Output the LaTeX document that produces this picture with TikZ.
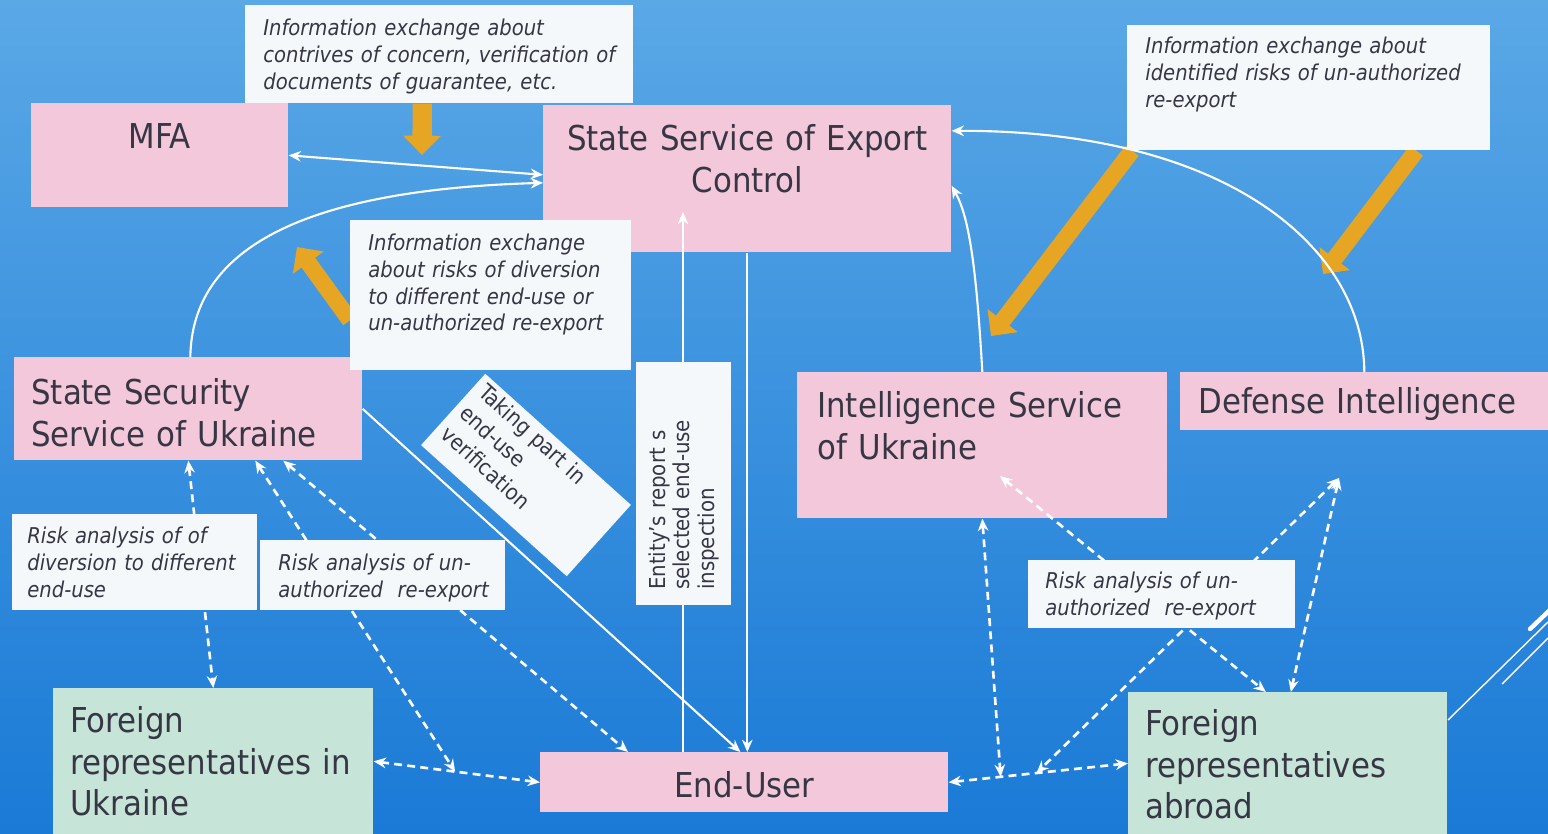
\documentclass[tikz,border=0pt]{standalone}
\usepackage{fontspec}
\setmainfont{DejaVuSansCondensed.ttf}[ItalicFont=DejaVuSansCondensed-Oblique.ttf,BoldFont=DejaVuSansCondensed-Bold.ttf]
\usepackage{xcolor}
\usetikzlibrary{arrows.meta, calc, positioning}
\definecolor{bgtop}{RGB}{90,168,230}
\definecolor{bgbottom}{RGB}{26,122,214}
\definecolor{boxpink}{RGB}{243,200,218}
\definecolor{boxgreen}{RGB}{198,228,216}
\definecolor{memowhite}{RGB}{244,248,251}
\definecolor{hintorange}{RGB}{230,166,36}
\definecolor{textgray}{RGB}{55,55,68}
\newcommand{\bigfont}{\fontsize{19.5}{23.8}\selectfont}
\newcommand{\memofont}{\fontsize{12.4}{15.3}\selectfont}
\newcommand{\tagfont}{\fontsize{12.5}{14.2}\selectfont}
\pgfdeclarelayer{bg}
\pgfdeclarelayer{back}
\pgfdeclarelayer{front}
\pgfsetlayers{bg,back,main,front}
\tikzset{
    >={Stealth[length=7pt,width=6pt]}, % small white heads
    agency/.style={fill=boxpink, text=textgray, font=\bigfont, inner ysep=0pt, anchor=north west, align=left},
    abroad/.style={agency, fill=boxgreen},
    memo/.style={fill=memowhite, text=textgray, font=\memofont\itshape, inner ysep=0pt, anchor=north west, align=left},
    tag/.style={fill=memowhite, text=textgray, font=\tagfont, inner ysep=0pt, anchor=center, align=left},
    link/.style={draw=white, line width=1.2pt},
    dashlink/.style={draw=white, line width=1.5pt, dash pattern=on 4.5pt off 3pt, <->},
    hint/.style={draw=hintorange, line width=9.5pt, -{Triangle[length=11pt,width=21pt]}}, % orange arrows
}

\begin{document}
\begin{tikzpicture}[x=0.02cm, y=-0.02cm]
    \useasboundingbox (0,0) rectangle (1548,834);
    \begin{pgfonlayer}{bg}
        \shade[top color=bgtop, bottom color=bgbottom] (0,0) rectangle (1548,834);
        % template lines
        \draw[white, line width=0.8pt] (1448,720) -- (1548,622);
        \draw[white, line width=0.8pt] (1502,684) -- (1548,638);
        \draw[white, line width=2.5pt, line cap=round] (1530,629) -- (1552,608);
    \end{pgfonlayer}

    % Agencies
    \begin{pgfonlayer}{back}
        \node[agency, align=center, inner xsep=0pt, text width=5.14cm, text height=0.9cm, text depth=1.18cm] (mfa) at (31,103) {MFA};
        \node[agency, align=center, inner xsep=0pt, text width=8.16cm, text height=0.9cm, text depth=2.04cm] (ssec) at (543,105) {State Service of Export\\Control};
        \node[agency, inner xsep=0.34cm, text width=6.28cm, text height=0.94cm, text depth=1.12cm] (ssu) at (14,357) {State Security\\Service of Ukraine};
        \node[agency, inner xsep=0.4cm, text width=6.6cm, text height=0.9cm, text depth=2.02cm] (intel) at (797,372) {Intelligence Service\\of Ukraine};
        \node[agency, inner xsep=0.36cm, text width=6.64cm, text height=0.82cm, text depth=0.34cm] (def) at (1180,372) {Defense Intelligence};
        \node[agency, align=center, inner xsep=0pt, text width=8.16cm, text height=0.9cm, text depth=0.3cm] (eu) at (540,752) {End-User};
        \node[abroad, inner xsep=0.34cm, text width=5.72cm, text height=0.88cm, text depth=2.04cm] (fua) at (53,688) {Foreign\\\mbox{representatives in}\\Ukraine};
        \node[abroad, inner xsep=0.34cm, text width=5.7cm, text height=0.86cm, text depth=1.98cm] (fab) at (1128,692) {Foreign\\representatives\\abroad};
    \end{pgfonlayer}

    % Notes
    \begin{pgfonlayer}{front}
        \node[memo, inner xsep=0.36cm, text width=7.04cm, text height=0.6cm, text depth=1.36cm] (info1) at (245,5) {Information exchange about\\\mbox{contrives of concern, verification of}\\documents of guarantee, etc.};
        \node[memo, inner xsep=0.36cm, text width=4.9cm, text height=0.6cm, text depth=2.4cm] (info2) at (350,220) {Information exchange\\about risks of diversion\\to different end-use or\\\mbox{un-authorized re-export}};
        \node[memo, inner xsep=0.36cm, text width=6.54cm, text height=0.56cm, text depth=1.94cm] (info3) at (1127,25) {Information exchange about\\\mbox{identified risks of un-authorized}\\re-export};
        \node[memo, inner xsep=0.3cm, text width=4.3cm, text height=0.58cm, text depth=1.34cm] (risk1) at (12,514) {Risk analysis of of\\\mbox{diversion to different}\\end-use};
        \node[memo, inner xsep=0.36cm, text width=4.18cm, text height=0.6cm, text depth=0.8cm] (risk2) at (260,540) {Risk analysis of un-\\\mbox{authorized\ \ re-export}};
        \node[memo, inner xsep=0.34cm, text width=4.66cm, text height=0.56cm, text depth=0.8cm] (risk3) at (1028,560) {Risk analysis of un-\\\mbox{authorized\ \ re-export}};
        \node[tag, rotate=-42, font=\fontsize{12.5}{16}\selectfont, inner xsep=0.16cm, text width=3.6cm, text height=0.42cm, text depth=1.5cm] (verif) at (526,475) {Taking part in\\end-use\\verification};
        \node[tag, rotate=90, inner xsep=0.3cm, text width=4.26cm, text height=0.58cm, text depth=1.32cm] (rep) at (683.5,483.5) {Entity's report s\\selected end-use\\inspection};
    \end{pgfonlayer}

    % Free ends
    \coordinate (hint-mfa) at (422,155);
    \coordinate (hint-ssu) at (297,247);
    \coordinate (hint-intel) at (991,336);
    \coordinate (hint-def) at (1323,274);
    \coordinate (rep-tip) at (683,212);
    \coordinate (intel-tip) at (1000,476);
    \coordinate (def-tip) at (1339,478);
    \coordinate (jn-left) at ($(fua.east)!0.49!(eu.west)$);
    \coordinate (jn-mid) at ($(eu.east)!0.29!(fab.west)$);
    \coordinate (jn-right) at ($(eu.east)!0.49!(fab.west)$);

    % Orange hints
    \draw[hint, line width=11pt] ([xshift=-0.34cm]info1.south) -- (hint-mfa);
    \draw[hint] ([yshift=-0.5cm]info2.west) -- (hint-ssu);
    \draw[hint] ([xshift=0.1cm]info3.south west) -- (hint-intel);
    \draw[hint] ([xshift=2.15cm]info3.south) -- (hint-def);

    % Solid links
    \draw[link, <->] (mfa.east) -- ([yshift=0.08cm]ssec.west);
    \draw[link, ->] ([xshift=0.04cm]ssu.north) .. controls (192,250) and (300,190) .. ([yshift=-0.08cm]ssec.west);
    \draw[link, ->] (intel.north) .. controls (976,260) and (968,215) .. ([yshift=-0.14cm]ssec.east);
    \draw[link, ->] (def.north) .. controls (1364,250) and (1230,130) .. ([yshift=0.96cm]ssec.east);
    \draw[link, ->] (ssec.south) -- (ssec.south |- eu.north);
    \draw[link, ->] (eu.north -| rep-tip) -- (rep-tip);
    \draw[link, ->] (ssu.east) -- ([xshift=-0.08cm]eu.north);

    % Dashed links
    \draw[dashlink] (ssu.south) -- (fua.north);
    \draw[dashlink] ([xshift=1.34cm]ssu.south) -- (jn-left);
    \draw[dashlink] ([xshift=1.9cm]ssu.south) -- ([xshift=1.76cm]eu.north west);
    \draw[dashlink] (fua.east) -- (eu.west);
    \draw[dashlink] (eu.east) -- (fab.west);
    \draw[dashlink] (intel.south) -- (jn-mid);
    \draw[dashlink] (intel-tip) -- ([xshift=-0.44cm]fab.north);
    \draw[dashlink] (def-tip) -- (jn-right);
    \draw[dashlink] (def-tip) -- ([xshift=0.06cm]fab.north);
\end{tikzpicture}
\end{document}
